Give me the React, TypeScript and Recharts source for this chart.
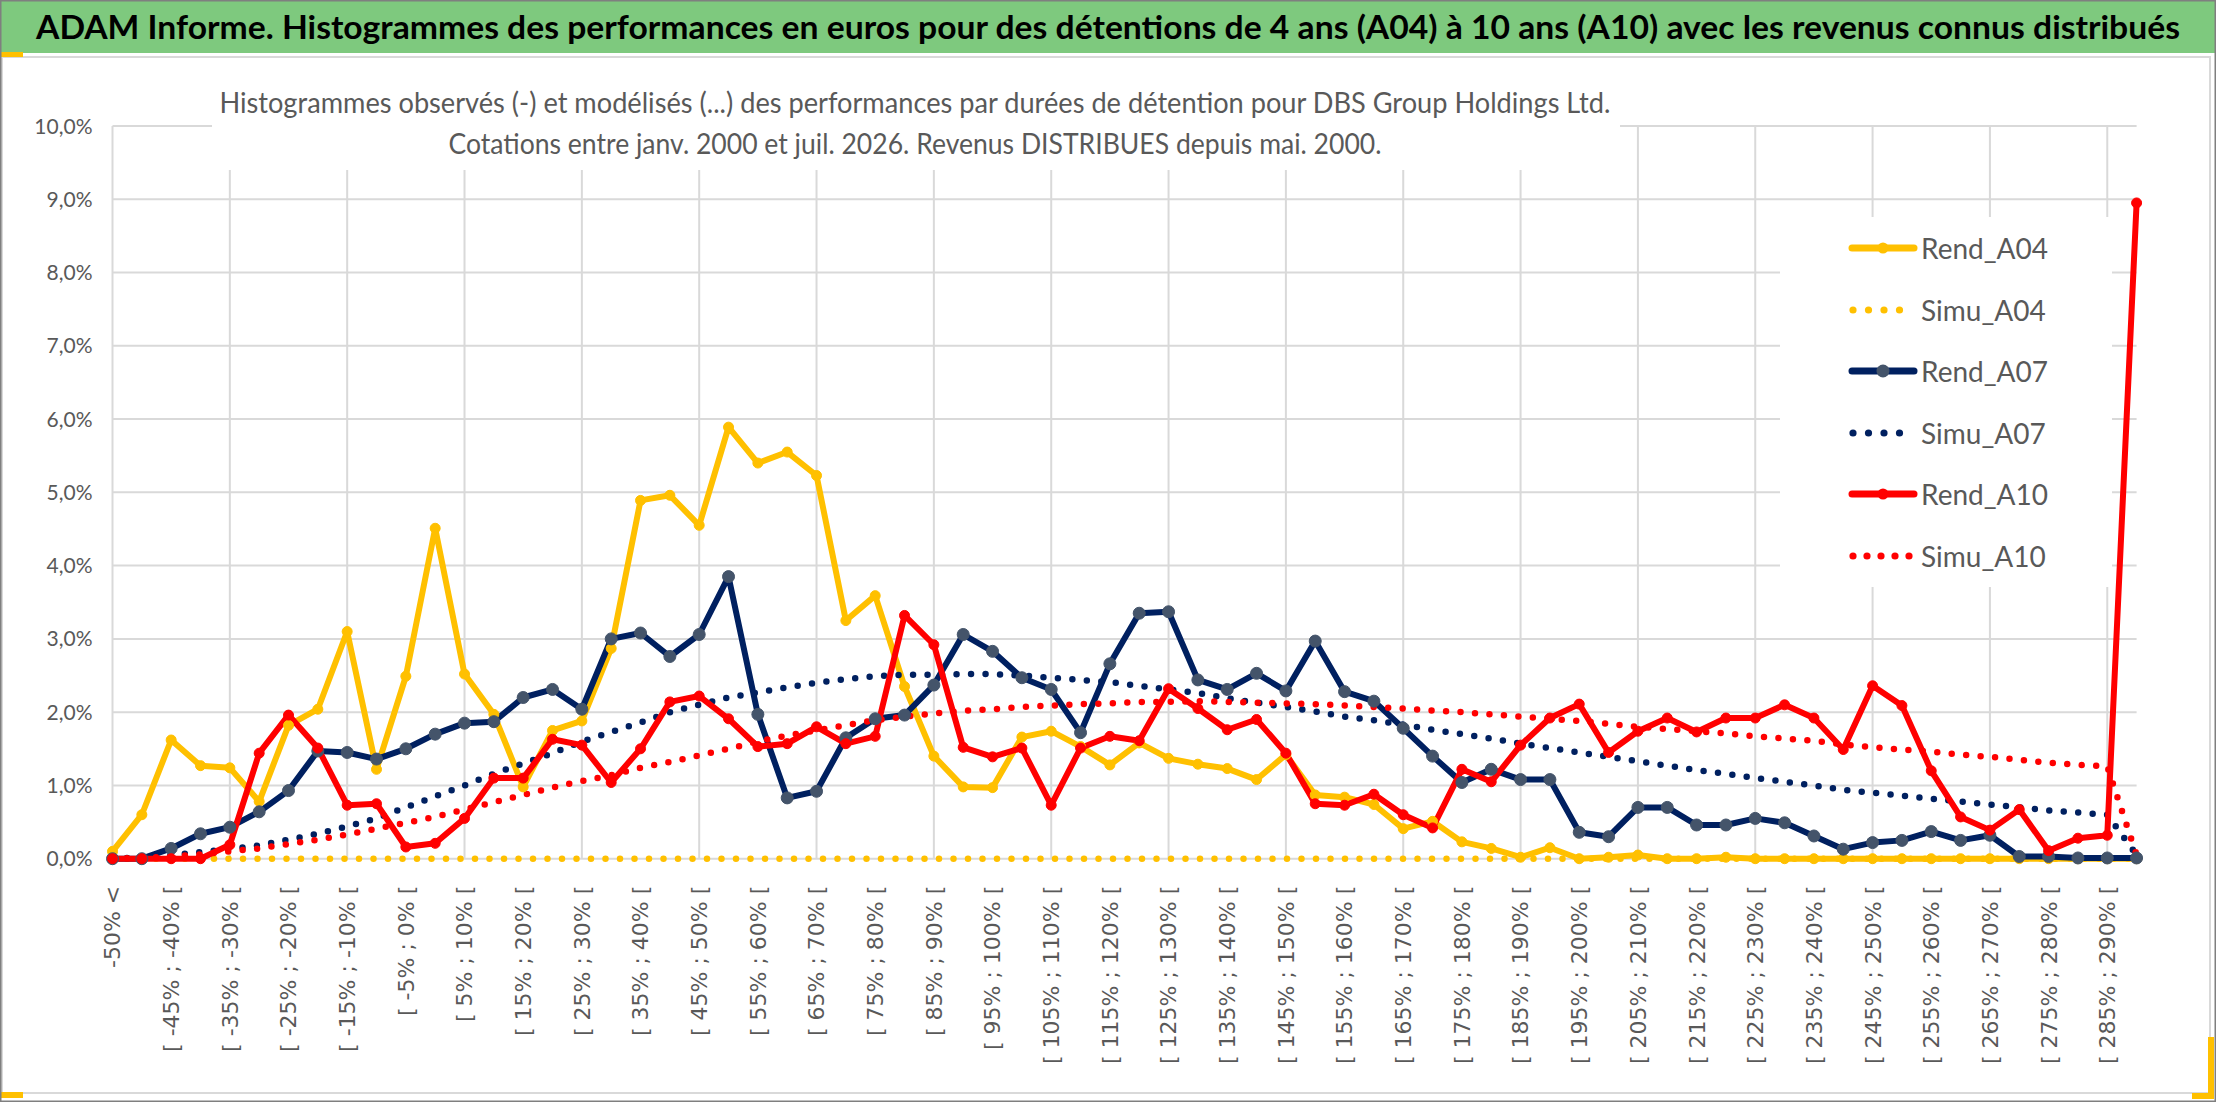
import React from 'react';
import { LineChart, Line, XAxis, YAxis, CartesianGrid, Legend } from 'recharts';

const categories = [
  '-50% <', '[ -50% ; -45% [', '[ -45% ; -40% [', '[ -40% ; -35% [', '[ -35% ; -30% [',
  '[ -30% ; -25% [', '[ -25% ; -20% [', '[ -20% ; -15% [', '[ -15% ; -10% [', '[ -10% ; -5% [',
  '[ -5% ; 0% [', '[ 0% ; 5% [', '[ 5% ; 10% [', '[ 10% ; 15% [', '[ 15% ; 20% [',
  '[ 20% ; 25% [', '[ 25% ; 30% [', '[ 30% ; 35% [', '[ 35% ; 40% [', '[ 40% ; 45% [',
  '[ 45% ; 50% [', '[ 50% ; 55% [', '[ 55% ; 60% [', '[ 60% ; 65% [', '[ 65% ; 70% [',
  '[ 70% ; 75% [', '[ 75% ; 80% [', '[ 80% ; 85% [', '[ 85% ; 90% [', '[ 90% ; 95% [',
  '[ 95% ; 100% [', '[ 100% ; 105% [', '[ 105% ; 110% [', '[ 110% ; 115% [', '[ 115% ; 120% [',
  '[ 120% ; 125% [', '[ 125% ; 130% [', '[ 130% ; 135% [', '[ 135% ; 140% [', '[ 140% ; 145% [',
  '[ 145% ; 150% [', '[ 150% ; 155% [', '[ 155% ; 160% [', '[ 160% ; 165% [', '[ 165% ; 170% [',
  '[ 170% ; 175% [', '[ 175% ; 180% [', '[ 180% ; 185% [', '[ 185% ; 190% [', '[ 190% ; 195% [',
  '[ 195% ; 200% [', '[ 200% ; 205% [', '[ 205% ; 210% [', '[ 210% ; 215% [', '[ 215% ; 220% [',
  '[ 220% ; 225% [', '[ 225% ; 230% [', '[ 230% ; 235% [', '[ 235% ; 240% [', '[ 240% ; 245% [',
  '[ 245% ; 250% [', '[ 250% ; 255% [', '[ 255% ; 260% [', '[ 260% ; 265% [', '[ 265% ; 270% [',
  '[ 270% ; 275% [', '[ 275% ; 280% [', '[ 280% ; 285% [', '[ 285% ; 290% [', '> 290%',
];

const rendA04 = [
  0.10, 0.60, 1.62, 1.27, 1.24, 0.78, 1.82, 2.04, 3.10, 1.22,
  2.49, 4.51, 2.52, 1.97, 0.98, 1.75, 1.88, 2.87, 4.89, 4.96,
  4.55, 5.89, 5.40, 5.55, 5.23, 3.25, 3.59, 2.35, 1.40, 0.98,
  0.97, 1.66, 1.74, 1.53, 1.28, 1.58, 1.37, 1.29, 1.23, 1.08,
  1.42, 0.87, 0.84, 0.74, 0.41, 0.51, 0.23, 0.14, 0.02, 0.15,
  0.00, 0.02, 0.05, 0.00, 0.00, 0.02, 0.00, 0.00, 0.00, 0.00,
  0.00, 0.00, 0.00, 0.00, 0.00, 0.00, 0.00, 0.00, 0.00, 0.00,
];

const simuA04 = [
  0, 0, 0, 0, 0, 0, 0, 0, 0, 0,
  0, 0, 0, 0, 0, 0, 0, 0, 0, 0,
  0, 0, 0, 0, 0, 0, 0, 0, 0, 0,
  0, 0, 0, 0, 0, 0, 0, 0, 0, 0,
  0, 0, 0, 0, 0, 0, 0, 0, 0, 0,
  0, 0, 0, 0, 0, 0, 0, 0, 0, 0,
  0, 0, 0, 0, 0, 0, 0, 0, 0, 0,
];

const rendA07 = [
  0.00, 0.00, 0.14, 0.34, 0.43, 0.64, 0.93, 1.47, 1.45, 1.36,
  1.50, 1.70, 1.85, 1.87, 2.20, 2.31, 2.04, 3.00, 3.08, 2.76,
  3.06, 3.85, 1.97, 0.83, 0.92, 1.65, 1.91, 1.96, 2.37, 3.06,
  2.83, 2.47, 2.31, 1.72, 2.66, 3.35, 3.37, 2.44, 2.31, 2.53,
  2.29, 2.97, 2.28, 2.15, 1.78, 1.40, 1.04, 1.22, 1.08, 1.08,
  0.36, 0.30, 0.70, 0.70, 0.46, 0.46, 0.55, 0.49, 0.31, 0.13,
  0.22, 0.25, 0.37, 0.25, 0.32, 0.03, 0.03, 0.01, 0.01, 0.01,
];

const simuA07 = [
  0.00, 0.02, 0.05, 0.09, 0.13, 0.18, 0.26, 0.34, 0.44, 0.55,
  0.70, 0.85, 1.00, 1.16, 1.30, 1.44, 1.60, 1.73, 1.86, 2.00,
  2.10, 2.20, 2.27, 2.34, 2.40, 2.45, 2.49, 2.51, 2.51, 2.52,
  2.52, 2.50, 2.47, 2.44, 2.41, 2.36, 2.31, 2.26, 2.19, 2.13,
  2.07, 2.01, 1.94, 1.89, 1.83, 1.76, 1.70, 1.64, 1.57, 1.51,
  1.45, 1.39, 1.33, 1.27, 1.21, 1.16, 1.10, 1.05, 1.00, 0.94,
  0.90, 0.86, 0.82, 0.78, 0.74, 0.70, 0.66, 0.63, 0.60, 0.05,
];

const rendA10 = [
  0.00, 0.00, 0.00, 0.00, 0.19, 1.44, 1.96, 1.51, 0.73, 0.75,
  0.16, 0.21, 0.55, 1.10, 1.10, 1.63, 1.55, 1.04, 1.50, 2.14,
  2.22, 1.91, 1.53, 1.57, 1.80, 1.57, 1.67, 3.32, 2.92, 1.52,
  1.39, 1.51, 0.73, 1.51, 1.67, 1.61, 2.32, 2.05, 1.76, 1.90,
  1.44, 0.75, 0.73, 0.88, 0.60, 0.42, 1.22, 1.05, 1.55, 1.92,
  2.11, 1.45, 1.74, 1.92, 1.73, 1.92, 1.92, 2.10, 1.92, 1.49,
  2.36, 2.09, 1.20, 0.57, 0.39, 0.67, 0.11, 0.28, 0.32, 8.95,
];

const simuA10 = [
  0.00, 0.01, 0.03, 0.06, 0.10, 0.14, 0.20, 0.26, 0.33, 0.41,
  0.49, 0.57, 0.67, 0.77, 0.87, 0.97, 1.06, 1.14, 1.24, 1.32,
  1.41, 1.50, 1.60, 1.68, 1.75, 1.82, 1.89, 1.94, 1.98, 2.02,
  2.04, 2.07, 2.09, 2.11, 2.12, 2.14, 2.14, 2.15, 2.14, 2.13,
  2.12, 2.11, 2.09, 2.07, 2.05, 2.02, 2.00, 1.97, 1.94, 1.91,
  1.88, 1.84, 1.80, 1.77, 1.74, 1.71, 1.67, 1.64, 1.61, 1.56,
  1.52, 1.49, 1.46, 1.42, 1.39, 1.35, 1.31, 1.28, 1.26, 0.05,
];

const yTicks = [0, 1, 2, 3, 4, 5, 6, 7, 8, 9, 10];

const data = categories.map((cat, i) => ({
  cat,
  Rend_A04: rendA04[i],
  Simu_A04: simuA04[i],
  Rend_A07: rendA07[i],
  Simu_A07: simuA07[i],
  Rend_A10: rendA10[i],
  Simu_A10: simuA10[i],
}));

const series = [
  { key: 'Rend_A04', color: '#FFC000', marker: '#FFC000', dotted: false, r: 5 },
  { key: 'Simu_A04', color: '#FFC000', marker: '#FFC000', dotted: true, r: 0 },
  { key: 'Rend_A07', color: '#002060', marker: '#44546A', dotted: false, r: 6 },
  { key: 'Simu_A07', color: '#002060', marker: '#002060', dotted: true, r: 0 },
  { key: 'Rend_A10', color: '#FF0000', marker: '#FF0000', dotted: false, r: 5 },
  { key: 'Simu_A10', color: '#FF0000', marker: '#FF0000', dotted: true, r: 0 },
];

const W = 2216;
const H = 1102;
const GREY = '#595959';
const CALIBRI = "Lato, 'Open Sans', sans-serif";

const fmtPct = (v: number) => v.toFixed(1).replace('.', ',') + '%';

const XTick = ({ x, y, payload }: any) => (
  <g transform={`translate(${x},${y})`}>
    <text
      transform="rotate(-90)"
      x={-27}
      y={0}
      dy="0.36em"
      textAnchor="end"
      fill={GREY}
      fontSize={22}
      fontFamily="'DejaVu Sans', Verdana, sans-serif"
    >
      {payload.value}
    </text>
  </g>
);

const YTick = ({ x, y, payload }: any) => (
  <text x={x} y={y} dy="0.36em" textAnchor="end" fill={GREY} fontSize={21} fontFamily={CALIBRI}>
    {fmtPct(payload.value)}
  </text>
);

const renderLegend = () => (
  <div style={{ width: 332, height: 370, background: '#fff', paddingTop: 0.5, boxSizing: 'border-box' }}>
    {series.map((s) => (
      <div key={s.key} style={{ height: 61.5, display: 'flex', alignItems: 'center' }}>
        <svg width={71} height={20} style={{ marginLeft: 68, flex: 'none' }}>
          {s.dotted ? (
            (s.key === 'Simu_A10' ? [5, 19, 33, 47, 61] : [5, 20.5, 36, 51.5]).map((cx) => (
              <circle key={cx} cx={cx} cy={10} r={3.6} fill={s.color} />
            ))
          ) : (
            <>
              <line x1={4} y1={10} x2={66} y2={10} stroke={s.color} strokeWidth={7} strokeLinecap="round" />
              <circle cx={35} cy={10} r={s.r + 0.5} fill={s.marker} />
            </>
          )}
        </svg>
        <span style={{ marginLeft: 2, fontFamily: CALIBRI, fontSize: 28, color: GREY, lineHeight: 1 }}>{s.key}</span>
      </div>
    ))}
  </div>
);

const gridXs = ({ xAxis, offset }: any) => {
  const xs: number[] = [];
  categories.forEach((c, i) => {
    if (i % 4 !== 0) return;
    if (xAxis && typeof xAxis.scale === 'function') {
      xs.push(xAxis.scale(c));
    } else {
      xs.push(offset.left + (i * offset.width) / (categories.length - 1));
    }
  });
  return xs;
};

export default function App() {
  return (
    <div style={{ position: 'absolute', left: 0, top: 0, width: W, height: H, background: '#fff', overflow: 'hidden' }}>
      <div style={{ position: 'absolute', left: 0, top: 0 }}>
        <LineChart width={W} height={H} data={data} margin={{ top: 126, right: 79.4, bottom: 43.3, left: 12.5 }}>
          <CartesianGrid stroke="#D9D9D9" strokeWidth={2} verticalCoordinatesGenerator={gridXs} />
          <XAxis
            dataKey="cat"
            interval={1}
            height={200}
            tickSize={0}
            tickMargin={0}
            axisLine={false}
            tickLine={false}
            tick={<XTick />}
          />
          <YAxis
            domain={[0, 10]}
            ticks={yTicks}
            width={100}
            tickSize={0}
            tickMargin={20}
            axisLine={false}
            tickLine={false}
            tick={<YTick />}
          />
          {series.map((s) =>
            s.dotted ? (
              <Line
                key={s.key}
                dataKey={s.key}
                type="linear"
                stroke={s.color}
                strokeWidth={6.5}
                strokeDasharray="0 14.5"
                strokeLinecap="round"
                dot={false}
                activeDot={false}
                isAnimationActive={false}
              />
            ) : (
              <Line
                key={s.key}
                dataKey={s.key}
                type="linear"
                stroke={s.color}
                strokeWidth={6}
                strokeLinejoin="round"
                dot={{ r: s.r, fill: s.marker, stroke: s.marker, strokeWidth: 1 }}
                activeDot={false}
                isAnimationActive={false}
              />
            )
          )}
          <Legend
            layout="vertical"
            align="center"
            verticalAlign="middle"
            content={renderLegend}
            wrapperStyle={{ left: 1780, top: 217, width: 332, height: 370 }}
          />
        </LineChart>
      </div>
      <svg width={W} height={H} style={{ position: 'absolute', left: 0, top: 0, pointerEvents: 'none' }}>
        <rect x={2} y={57} width={2208} height={1036} fill="none" stroke="#D9D9D9" strokeWidth={2} />
        <rect x={0} y={0} width={W} height={53} fill="#7EC97E" />
        <rect x={0} y={52} width={23} height={5} fill="#FFC000" />
        <rect x={0} y={1092} width={23} height={6} fill="#FFC000" />
        <rect x={2192} y={1093} width={22} height={6} fill="#FFC000" />
        <rect x={2208} y={1037} width={6} height={62} fill="#FFC000" />
        <text
          x={36}
          y={39}
          textLength={2144}
          lengthAdjust="spacingAndGlyphs"
          fontSize={32}
          fontWeight="bold"
          fontFamily={CALIBRI}
          fill="#000"
        >
          ADAM Informe. Histogrammes des performances en euros pour des détentions de 4 ans (A04) à 10 ans (A10) avec les revenus connus distribués
        </text>
        <rect x={212} y={62} width={1408} height={108} fill="#fff" />
        <text
          x={915}
          y={113}
          textAnchor="middle"
          textLength={1391}
          lengthAdjust="spacingAndGlyphs"
          fontSize={28}
          fontFamily={CALIBRI}
          fill={GREY}
        >
          Histogrammes observés (-) et modélisés (...) des performances par durées de détention pour DBS Group Holdings Ltd.
        </text>
        <text
          x={915}
          y={154}
          textAnchor="middle"
          textLength={933}
          lengthAdjust="spacingAndGlyphs"
          fontSize={28}
          fontFamily={CALIBRI}
          fill={GREY}
        >
          Cotations entre janv. 2000 et juil. 2026. Revenus DISTRIBUES depuis mai. 2000.
        </text>
        <rect x={0.75} y={0.75} width={W - 1.5} height={H - 1.5} fill="none" stroke="#7F7F7F" strokeWidth={1.5} />
      </svg>
    </div>
  );
}
